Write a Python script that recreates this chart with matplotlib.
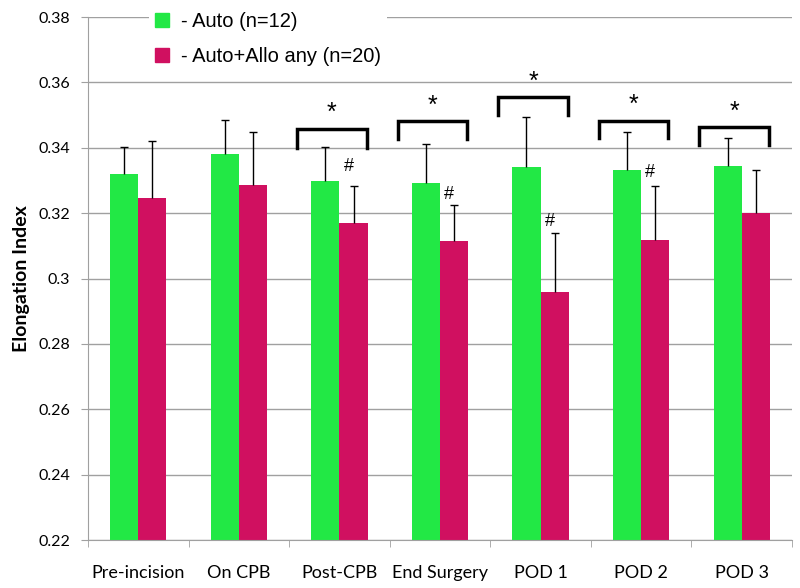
import numpy as np
import matplotlib.pyplot as plt
from matplotlib.patches import Patch

categories = ['Pre-incision', 'On CPB', 'Post-CPB', 'End Surgery', 'POD 1', 'POD 2', 'POD 3']
auto_mean = [0.332, 0.338, 0.3298, 0.3291, 0.3341, 0.3332, 0.3344]
auto_err = [0.0083, 0.0106, 0.0105, 0.0122, 0.0152, 0.0117, 0.0087]
allo_mean = [0.3247, 0.3285, 0.317, 0.3115, 0.2958, 0.3118, 0.3199]
allo_err = [0.0174, 0.0163, 0.0112, 0.0111, 0.0182, 0.0165, 0.0134]

# significance brackets: (category index, bracket top, leg bottom, star y)
bracket_idx = [2, 3, 4, 5, 6]
bracket_top = [0.3459, 0.3483, 0.3554, 0.3483, 0.3465]
bracket_low = [0.3400, 0.3427, 0.3500, 0.3430, 0.3409]
star_y = [0.3506, 0.3529, 0.3603, 0.3531, 0.3510]
# '#' marks: (category index, y)
hash_idx = [2, 3, 4, 5]
hash_y = [0.3342, 0.3258, 0.3173, 0.3324]

green = '#22E845'
magenta = '#D01060'

fig = plt.figure(figsize=(8, 5.88), dpi=100)
ax = fig.add_axes([0.11, 0.0816, 0.88, 0.8894])

x = np.arange(len(categories))
w = 0.28
ax.bar(x - w/2, auto_mean, w, color=green, zorder=2)
ax.bar(x + w/2, allo_mean, w, color=magenta, zorder=2)
for xs, m, e in [(x - w/2, auto_mean, auto_err), (x + w/2, allo_mean, allo_err)]:
    eb = ax.errorbar(xs, m, yerr=[np.zeros(len(x)), e], fmt='none',
                     ecolor='black', elinewidth=1, capsize=3, capthick=1, zorder=3)
    eb[1][0].set_visible(False)  # no cap at the bar top

for i, top, low, sy in zip(bracket_idx, bracket_top, bracket_low, star_y):
    x0, x1 = i - 0.42, i + 0.27
    ax.plot([x0, x0, x1, x1], [low, top, top, low], color='black', lw=2.5,
            solid_joinstyle='miter', zorder=4)
    ax.text((x0 + x1) / 2, sy, '*', ha='center', va='center', fontsize=18,
            family='Liberation Sans', zorder=4)

for i, hy in zip(hash_idx, hash_y):
    ax.text(i + 0.09, hy, '#', ha='center', va='center', fontsize=13,
            family='Liberation Sans', zorder=4)

ax.set_ylim(0.22, 0.38)
ax.set_xlim(-0.5, len(categories) - 0.5)
ax.set_yticks(np.arange(0.22, 0.381, 0.02))
ax.set_yticklabels(['0.22', '0.24', '0.26', '0.28', '0.3', '0.32', '0.34', '0.36', '0.38'],
                   family='Lato', fontsize=11.5)
ax.yaxis.grid(True, color='#A0A0A0', lw=1, zorder=0)
ax.set_axisbelow(True)
ax.set_xticks(x)
ax.set_xticklabels(categories, family='Lato', fontsize=13)
ax.set_xticks(np.arange(-0.5, len(categories)), minor=True)
ax.tick_params(axis='x', which='major', length=0, pad=18)
ax.tick_params(axis='x', which='minor', length=5, color='#A0A0A0')
ax.tick_params(axis='y', length=5, color='#A0A0A0', pad=8)
for s in ['top', 'right']:
    ax.spines[s].set_visible(False)
for s in ['left', 'bottom']:
    ax.spines[s].set_color('#A0A0A0')
ax.set_ylabel('Elongation Index', family='Lato', fontweight='bold', fontsize=14, labelpad=6)

handles = [Patch(color=green, label='- Auto (n=12)'),
           Patch(color=magenta, label='- Auto+Allo any (n=20)')]
leg = ax.legend(handles=handles, loc='upper left', bbox_to_anchor=(0.072, 1.04),
                frameon=True, facecolor='white', edgecolor='none', framealpha=1,
                prop={'family': 'Liberation Sans', 'size': 14.5}, handlelength=0.7,
                handleheight=0.7, handletextpad=0.6, labelspacing=0.8, borderpad=0.3)
leg.set_zorder(5)

fig.savefig('out.png', dpi=100)
